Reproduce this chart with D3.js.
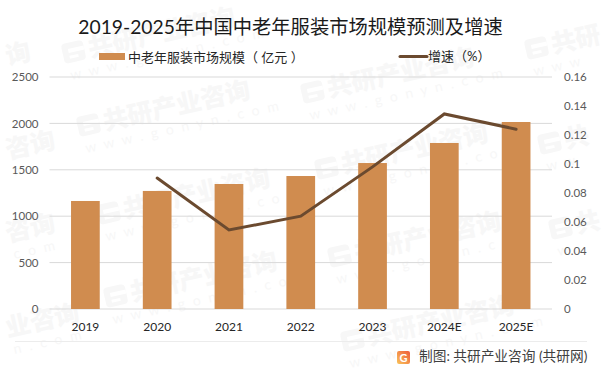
<!DOCTYPE html>
<html>
<head>
<meta charset="utf-8">
<script src="https://cdn.jsdelivr.net/npm/d3@7"></script>
<style>
html, body { margin: 0; padding: 0; background: #fff; }
svg { display: block; }
text { font-family: Lato, "Noto Sans CJK SC", sans-serif; }
</style>
</head>
<body>
<div id="chart"></div>
<script>
const years = ["2019", "2020", "2021", "2022", "2023", "2024E", "2025E"];
const marketSize = [1164, 1272, 1347, 1433, 1573, 1789, 2015];
const growth = [null, 0.0903, 0.0545, 0.064, 0.098, 0.1345, 0.124];
const leftTicks = [0, 500, 1000, 1500, 2000, 2500];
const rightTicks = [0, 0.02, 0.04, 0.06, 0.08, 0.1, 0.12, 0.14, 0.16];

const titleText = "2019-2025年中国中老年服装市场规模预测及增速";
const barName = "中老年服装市场规模（ 亿元 ）";
const lineName = "增速（%）";
const sourceText = "制图: 共研产业咨询 (共研网)";

const width = 602, height = 373;
const svg = d3.select("#chart").append("svg")
    .attr("width", width)
    .attr("height", height);

// faint watermark tiled behind everything. The ones at the edges only get the part that shows.
const wmFull = "共研产业咨询";
const wmUrl = "w w w . g o n y n . c o m";
const marks = [
    {x: 65, y: 64, logo: true, label: wmFull, url: wmUrl},
    {x: 80, y: 137, logo: true, label: wmFull, url: wmUrl},
    {x: 304, y: 104, logo: true, label: wmFull, url: wmUrl},
    {x: 318, y: 180, logo: true, label: wmFull, url: wmUrl},
    {x: 100, y: 225, logo: true, label: wmFull, url: wmUrl},
    {x: 107, y: 308, logo: true, label: wmFull, url: wmUrl},
    {x: 331, y: 268, logo: true, label: wmFull, url: wmUrl},
    {x: 344, y: 352, logo: true, label: wmFull, url: wmUrl},
    {x: 528, y: 60, logo: true, label: "共研", url: "w w w"},
    {x: 541, y: 155, logo: true, label: "共", url: "w w"},
    {x: 552, y: 240, logo: true, label: "共", url: "w"},
    {x: 8, y: 66, label: "询", url: ""},
    {x: 8, y: 160, label: "咨询", url: "m"},
    {x: 8, y: 243, label: "咨询", url: "c o m"},
    {x: 8, y: 338, label: "业咨询", url: "n . c o m"}
];
const wm = svg.append("g").attr("class", "watermark");
marks.forEach(function(m) {
    let g = wm.append("g").attr("transform", `translate(${m.x},${m.y}) rotate(-12.5)`);
    let textX = 0;
    if (m.logo) {
        g.append("rect").attr("x", 0).attr("y", -20).attr("width", 22).attr("height", 20)
            .attr("rx", 4).attr("fill", "#f7f7f7");
        g.append("rect").attr("x", 6).attr("y", -14).attr("width", 16).attr("height", 4).attr("fill", "#fff");
        g.append("rect").attr("x", 6).attr("y", -7).attr("width", 9).attr("height", 3).attr("fill", "#fff");
        textX = 26;
    }
    g.append("text").attr("x", textX).attr("y", -1).text(m.label)
        .attr("font-size", 25).attr("font-weight", 900).attr("fill", "#f7f7f7");
    if (m.url !== "") {
        g.append("text").attr("x", 3).attr("y", 17).text(m.url)
            .attr("font-size", 14).attr("fill", "#f7f7f7").attr("letter-spacing", 2.2);
    }
});

const margin = {top: 77, right: 50, bottom: 64, left: 49.5};
const plotW = width - margin.left - margin.right;
const plotH = height - margin.top - margin.bottom;

const x = d3.scaleBand().domain(years).range([margin.left, margin.left + plotW]).paddingInner(0.6).paddingOuter(0.3);
const xPoint = d => x(d) + x.bandwidth() / 2;
const yLeft = d3.scaleLinear().domain([0, 2500]).range([margin.top + plotH, margin.top]);
const yRight = d3.scaleLinear().domain([0, 0.16]).range([margin.top + plotH, margin.top]);

// gridlines
svg.append("g").selectAll("line")
    .data(leftTicks)
    .join("line")
    .attr("x1", margin.left)
    .attr("x2", margin.left + plotW)
    .attr("y1", d => yLeft(d))
    .attr("y2", d => yLeft(d))
    .attr("stroke", "#d9d9d9")
    .attr("stroke-width", 1);

// bars
svg.append("g").selectAll("rect")
    .data(years)
    .join("rect")
    .attr("x", d => x(d))
    .attr("width", x.bandwidth())
    .attr("y", (d, i) => yLeft(marketSize[i]))
    .attr("height", (d, i) => yLeft(0) - yLeft(marketSize[i]))
    .attr("fill", "#d08c4f");

// growth line
const line = d3.line()
    .defined(d => d[1] !== null)
    .x(d => xPoint(d[0]))
    .y(d => yRight(d[1]));
svg.append("path")
    .datum(years.map((d, i) => [d, growth[i]]))
    .attr("d", line)
    .attr("fill", "none")
    .attr("stroke", "#6b4a2f")
    .attr("stroke-width", 3)
    .attr("stroke-linecap", "round");

// axes
const axisLeft = d3.axisLeft(yLeft).tickValues(leftTicks).tickSize(0).tickPadding(11)
    .tickFormat(d => String(d));
const axisRight = d3.axisRight(yRight).tickValues(rightTicks).tickSize(0).tickPadding(12)
    .tickFormat(d => String(d));
const axisBottom = d3.axisBottom(x).tickSize(0).tickPadding(13);

function styleAxis(g, color, size) {
    g.select(".domain").remove();
    g.selectAll("text")
        .attr("fill", color)
        .style("font-size", size + "px")
        .style("font-family", 'Lato, "Noto Sans CJK SC", sans-serif');
}
svg.append("g").attr("transform", `translate(${margin.left},0)`).call(axisLeft).call(styleAxis, "#595959", 11.5);
svg.append("g").attr("transform", `translate(${margin.left + plotW},0)`).call(axisRight).call(styleAxis, "#595959", 11.5);
svg.append("g").attr("transform", `translate(0,${margin.top + plotH})`).call(axisBottom).call(styleAxis, "#262626", 12);

// title
svg.append("text")
    .attr("x", 290.5)
    .attr("y", 33.5)
    .attr("text-anchor", "middle")
    .attr("font-size", 19.3)
    .attr("fill", "#1a1a1a")
    .text(titleText);

// legend
svg.append("rect").attr("x", 99).attr("y", 53).attr("width", 26).attr("height", 7).attr("fill", "#d08c4f");
svg.append("text").attr("x", 128).attr("y", 62).attr("font-size", 13).attr("fill", "#262626").text(barName);
svg.append("line").attr("x1", 400).attr("x2", 427).attr("y1", 56.5).attr("y2", 56.5)
    .attr("stroke", "#6b4a2f").attr("stroke-width", 3).attr("stroke-linecap", "round");
svg.append("text").attr("x", 428).attr("y", 61).attr("font-size", 13).attr("fill", "#262626").text(lineName);

// footer
svg.append("line").attr("x1", 15).attr("x2", 587).attr("y1", 341.5).attr("y2", 341.5)
    .attr("stroke", "#ececec").attr("stroke-width", 1);
const logo = svg.append("defs").append("linearGradient").attr("id", "logoFill")
    .attr("x1", "0%").attr("x2", "100%").attr("y1", "100%").attr("y2", "0%");
logo.append("stop").attr("offset", "0%").attr("stop-color", "#f9c45a");
logo.append("stop").attr("offset", "100%").attr("stop-color", "#ee5a3a");
svg.append("rect").attr("x", 397).attr("y", 351).attr("width", 13).attr("height", 13).attr("rx", 2).attr("fill", "url(#logoFill)");
svg.append("text").attr("x", 403.5).attr("y", 362).attr("text-anchor", "middle").attr("font-size", 11)
    .attr("font-weight", 700).attr("fill", "#fff").text("G");
svg.append("text").attr("x", 419).attr("y", 360.5).attr("font-size", 13.7).attr("fill", "#404040").text(sourceText);
</script>
</body>
</html>
